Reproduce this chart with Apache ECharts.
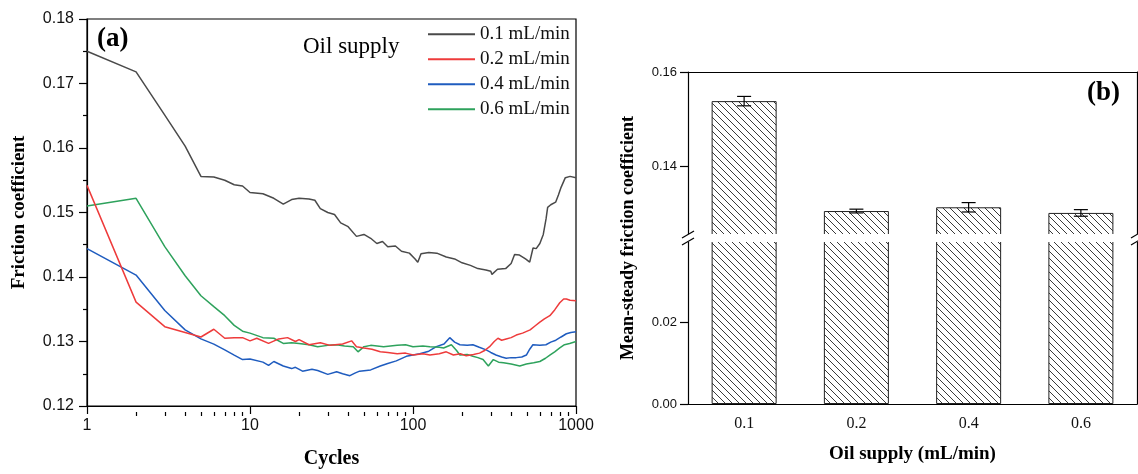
<!DOCTYPE html>
<html>
<head>
<meta charset="utf-8">
<script src="https://cdn.jsdelivr.net/npm/echarts@6.0.0/dist/echarts.min.js"></script>
<style>
  html, body { margin: 0; padding: 0; background: #fff; }
  #main { width: 1138px; height: 474px; }
</style>
</head>
<body>
<div id="main"></div>
<script>
// (a) friction coefficient vs cycles
var cycles01 = [1, 2, 3, 4, 5, 6, 7, 8, 9, 10, 12, 14, 16, 18, 20, 23, 25, 27, 30, 33, 36, 40, 45, 50, 55, 60, 65, 70, 78, 85, 95, 103, 107, 112, 125, 140, 160, 180, 200, 225, 250, 280, 300, 305, 330, 370, 400, 420, 450, 490, 520, 545, 570, 600, 630, 655, 670, 700, 750, 780, 810, 860, 920, 1000];
var friction01 = [0.1750, 0.1718, 0.1651, 0.1603, 0.1556, 0.1555, 0.1550, 0.1543, 0.1541, 0.1531, 0.1529, 0.1522, 0.1513, 0.1520, 0.1522, 0.1521, 0.1519, 0.1506, 0.1500, 0.1497, 0.1484, 0.1478, 0.1463, 0.1466, 0.1460, 0.1452, 0.1455, 0.1447, 0.1448, 0.1440, 0.1437, 0.1428, 0.1423, 0.1436, 0.1438, 0.1437, 0.1431, 0.1428, 0.1422, 0.1418, 0.1413, 0.1411, 0.1409, 0.1404, 0.1412, 0.1413, 0.1421, 0.1435, 0.1434, 0.1428, 0.1423, 0.1445, 0.1444, 0.1452, 0.1466, 0.1490, 0.1508, 0.1512, 0.1516, 0.1527, 0.1539, 0.1554, 0.1556, 0.1554];

var cycles02 = [1, 2, 3, 4, 5, 6, 7, 8, 9, 10, 11, 13, 15, 17, 19, 20, 23, 27, 31, 37, 42, 45, 50, 56, 63, 70, 80, 90, 100, 115, 127, 145, 160, 177, 195, 212, 235, 256, 275, 295, 315, 332, 350, 373, 400, 430, 470, 523, 560, 600, 640, 691, 740, 795, 840, 873, 920, 1000];
var friction02 = [0.1542, 0.1361, 0.1323, 0.1314, 0.1307, 0.1319, 0.1305, 0.1306, 0.1306, 0.1301, 0.1305, 0.1297, 0.1304, 0.1306, 0.1300, 0.1303, 0.1295, 0.1298, 0.1294, 0.1296, 0.1301, 0.1292, 0.1290, 0.1288, 0.1284, 0.1283, 0.1281, 0.1282, 0.1279, 0.1281, 0.1279, 0.1281, 0.1284, 0.1279, 0.1281, 0.1278, 0.1280, 0.1282, 0.1286, 0.1292, 0.1300, 0.1305, 0.1302, 0.1304, 0.1306, 0.1310, 0.1313, 0.1318, 0.1324, 0.1330, 0.1335, 0.1340, 0.1349, 0.1360, 0.1366, 0.1366, 0.1364, 0.1363];

var cycles04 = [1, 2, 3, 4, 5, 6, 7, 8, 9, 10, 12, 13, 14, 16, 18, 19, 21, 24, 26, 30, 34, 37, 41, 44, 47, 55, 63, 70, 79, 91, 100, 110, 125, 139, 155, 168, 180, 194, 215, 233, 255, 281, 300, 323, 350, 373, 400, 430, 465, 496, 520, 544, 600, 654, 700, 752, 810, 873, 930, 1000];
var friction04 = [0.1444, 0.1403, 0.1348, 0.1318, 0.1304, 0.1296, 0.1287, 0.1279, 0.1272, 0.1273, 0.1268, 0.1263, 0.1269, 0.1262, 0.1258, 0.1260, 0.1254, 0.1257, 0.1255, 0.1249, 0.1253, 0.1250, 0.1247, 0.1251, 0.1254, 0.1256, 0.1262, 0.1266, 0.1270, 0.1277, 0.1279, 0.1281, 0.1285, 0.1292, 0.1296, 0.1306, 0.1299, 0.1295, 0.1294, 0.1295, 0.1291, 0.1287, 0.1283, 0.1279, 0.1276, 0.1274, 0.1275, 0.1275, 0.1276, 0.1279, 0.1288, 0.1295, 0.1294, 0.1295, 0.1299, 0.1302, 0.1307, 0.1312, 0.1314, 0.1315];

var cycles06 = [1, 2, 3, 4, 5, 6, 7, 8, 9, 10, 12, 14, 16, 18, 20, 23, 26, 30, 34, 38, 43, 46, 50, 55, 66, 80, 90, 100, 115, 127, 145, 154, 172, 185, 194, 215, 233, 250, 269, 290, 311, 335, 359, 400, 452, 496, 550, 600, 650, 691, 740, 795, 850, 914, 1000];
var friction06 = [0.1510, 0.1522, 0.1447, 0.1402, 0.1371, 0.1354, 0.1340, 0.1325, 0.1316, 0.1313, 0.1306, 0.1305, 0.1297, 0.1298, 0.1297, 0.1295, 0.1292, 0.1294, 0.1295, 0.1293, 0.1292, 0.1284, 0.1292, 0.1294, 0.1292, 0.1294, 0.1295, 0.1292, 0.1293, 0.1292, 0.1291, 0.1290, 0.1295, 0.1286, 0.1279, 0.1280, 0.1277, 0.1275, 0.1272, 0.1262, 0.1272, 0.1268, 0.1267, 0.1265, 0.1262, 0.1265, 0.1267, 0.1269, 0.1274, 0.1279, 0.1284, 0.1290, 0.1295, 0.1297, 0.1300];

var seriesNames = ['0.1 mL/min', '0.2 mL/min', '0.4 mL/min', '0.6 mL/min'];
var seriesColors = ['#4a4a4a', '#ee3b3b', '#1f5cbf', '#2ea25c'];
var cycleMinorTicks = [2, 3, 4, 5, 6, 7, 8, 9, 20, 30, 40, 50, 60, 70, 80, 90, 200, 300, 400, 500, 600, 700, 800, 900];

// (b) mean-steady friction coefficient
var oilSupply = ['0.1', '0.2', '0.4', '0.6'];
var meanFriction = [0.1538, 0.1304, 0.1312, 0.1300];
var meanError = [0.0010, 0.0004, 0.0010, 0.0007];

function pairs(xs, ys) {
    return xs.map(function (x, i) { return [x, ys[i]]; });
}

// hatch fill for the bars
function makeHatch() {
    var s = 7;
    var c = document.createElement('canvas');
    c.width = s; c.height = s;
    var ctx = c.getContext('2d');
    ctx.fillStyle = '#fff';
    ctx.fillRect(0, 0, s, s);
    ctx.strokeStyle = '#3a3a3a';
    ctx.lineWidth = 1;
    ctx.beginPath();
    ctx.moveTo(-1, -1); ctx.lineTo(s + 1, s + 1);
    ctx.moveTo(-1, s - 1); ctx.lineTo(1, s + 1);
    ctx.moveTo(s - 1, -1); ctx.lineTo(s + 1, 1);
    ctx.stroke();
    return c;
}

var myChart = echarts.init(document.getElementById('main'), null, { renderer: 'canvas' });

var serif = '"Liberation Serif", "Times New Roman", serif';
var sans = '"Liberation Sans", Arial, sans-serif';
var axisLineStyle = { color: '#000', width: 1.2 };

var plotA = { left: 87, top: 19, width: 489, height: 393 };
var upperMin = 0.1253, upperMax = 0.16;
var lowerMin = 0, lowerMax = 0.04;

var lineSeries = [
    [cycles01, friction01], [cycles02, friction02], [cycles04, friction04], [cycles06, friction06]
].map(function (d, i) {
    return {
        name: seriesNames[i],
        type: 'line',
        xAxisIndex: 0,
        yAxisIndex: 0,
        showSymbol: false,
        symbol: 'none',
        data: pairs(d[0], d[1]),
        lineStyle: { width: 1.5, color: seriesColors[i] },
        itemStyle: { color: seriesColors[i] },
        z: i === 1 ? 4 : 3
    };
});

var hatch = { image: makeHatch(), repeat: 'repeat' };
var barStyle = { color: hatch, borderColor: '#222', borderWidth: 1 };

var option = {
    animation: false,
    backgroundColor: '#fff',
    grid: [
        { left: plotA.left, top: plotA.top, width: plotA.width, height: plotA.height, show: true, borderColor: '#000', borderWidth: 1.2, backgroundColor: 'transparent' },
        { left: 688, top: 72, width: 449, height: 163 },   // upper part of broken axis
        { left: 688, top: 241, width: 449, height: 163 }   // lower part
    ],
    legend: {
        data: seriesNames,
        orient: 'vertical',
        left: 423,
        top: 19,
        icon: 'rect',
        itemWidth: 47,
        itemHeight: 2,
        itemGap: 4.5,
        selectedMode: false,
        textStyle: { fontFamily: serif, fontSize: 19, color: '#111', lineHeight: 20.5, padding: [0, 0, 0, 0] }
    },
    xAxis: [
        {
            type: 'log', logBase: 10, gridIndex: 0, min: 1, max: 1000, position: 'bottom',
            name: 'Cycles', nameLocation: 'middle', nameGap: 43,
            nameTextStyle: { fontFamily: serif, fontWeight: 'bold', fontSize: 20, color: '#000' },
            axisLine: { lineStyle: axisLineStyle },
            axisTick: { length: 8, lineStyle: axisLineStyle },
            axisLabel: { fontFamily: sans, fontSize: 16, color: '#111', margin: 12, formatter: function (v) { return String(Math.round(v)); } },
            splitLine: { show: false }
        },
        {
            // minor ticks 2..9 of each decade, moved down onto the bottom edge
            type: 'log', logBase: 10, gridIndex: 0, min: 1, max: 1000, position: 'top', offset: -plotA.height,
            axisLine: { show: false },
            axisTick: { inside: true, length: 4, customValues: cycleMinorTicks, lineStyle: axisLineStyle },
            axisLabel: { show: false },
            splitLine: { show: false }
        },
        {
            type: 'category', gridIndex: 1, data: oilSupply, position: 'top',
            axisLine: { lineStyle: axisLineStyle },
            axisTick: { show: false }, axisLabel: { show: false }
        },
        {
            type: 'category', gridIndex: 2, data: oilSupply,
            name: 'Oil supply (mL/min)', nameLocation: 'middle', nameGap: 41,
            nameTextStyle: { fontFamily: serif, fontWeight: 'bold', fontSize: 19, color: '#000' },
            axisLine: { lineStyle: axisLineStyle },
            axisTick: { alignWithLabel: true, length: 6, lineStyle: axisLineStyle },
            axisLabel: { fontFamily: serif, fontSize: 16, color: '#111', margin: 12 }
        }
    ],
    yAxis: [
        {
            type: 'value', gridIndex: 0, min: 0.12, max: 0.18, interval: 0.01,
            name: 'Friction coefficient', nameLocation: 'middle', nameGap: 58,
            nameTextStyle: { fontFamily: serif, fontWeight: 'bold', fontSize: 19, color: '#000' },
            axisLine: { show: true, lineStyle: axisLineStyle },
            axisTick: { show: true, length: 8, lineStyle: axisLineStyle },
            minorTick: { show: true, splitNumber: 2, length: 4, lineStyle: axisLineStyle },
            axisLabel: { fontFamily: sans, fontSize: 16, color: '#111', margin: 13, formatter: function (v) { return v.toFixed(2); } },
            splitLine: { show: false }
        },
        {
            type: 'value', gridIndex: 1, min: upperMin, max: upperMax,
            axisLine: { show: true, lineStyle: axisLineStyle },
            axisTick: { show: true, length: 8, customValues: [0.14, 0.16], lineStyle: axisLineStyle },
            axisLabel: { fontFamily: sans, fontSize: 13, color: '#111', margin: 11, customValues: [0.14, 0.16], formatter: function (v) { return v.toFixed(2); } },
            splitLine: { show: false }
        },
        {
            type: 'value', gridIndex: 1, min: upperMin, max: upperMax,
            axisLine: { show: false },
            axisTick: { show: true, length: 4, customValues: [0.13, 0.15], lineStyle: axisLineStyle },
            axisLabel: { show: false }, splitLine: { show: false }
        },
        {
            type: 'value', gridIndex: 1, min: upperMin, max: upperMax, position: 'right',
            axisLine: { show: true, lineStyle: axisLineStyle },
            axisTick: { show: false }, axisLabel: { show: false }, splitLine: { show: false }
        },
        {
            type: 'value', gridIndex: 2, min: lowerMin, max: lowerMax,
            axisLine: { show: true, lineStyle: axisLineStyle },
            axisTick: { show: true, length: 8, customValues: [0, 0.02], lineStyle: axisLineStyle },
            axisLabel: { fontFamily: sans, fontSize: 13, color: '#111', margin: 11, customValues: [0, 0.02], formatter: function (v) { return v.toFixed(2); } },
            splitLine: { show: false }
        },
        {
            type: 'value', gridIndex: 2, min: lowerMin, max: lowerMax,
            axisLine: { show: false },
            axisTick: { show: true, length: 4, customValues: [0.01, 0.03], lineStyle: axisLineStyle },
            axisLabel: { show: false }, splitLine: { show: false }
        },
        {
            type: 'value', gridIndex: 2, min: lowerMin, max: lowerMax, position: 'right',
            axisLine: { show: true, lineStyle: axisLineStyle },
            axisTick: { show: false }, axisLabel: { show: false }, splitLine: { show: false }
        }
    ],
    series: lineSeries.concat([
        {
            type: 'bar', xAxisIndex: 2, yAxisIndex: 1, barWidth: 65, clip: true,
            data: meanFriction, itemStyle: barStyle, silent: true
        },
        {
            type: 'bar', xAxisIndex: 3, yAxisIndex: 4, barWidth: 65, clip: true,
            data: meanFriction, itemStyle: barStyle, silent: true
        },
        {
            // error bars
            type: 'custom', xAxisIndex: 2, yAxisIndex: 1, z: 5, silent: true,
            data: meanFriction.map(function (m, i) { return [i, m - meanError[i], m + meanError[i]]; }),
            renderItem: function (params, api) {
                var lo = api.coord([api.value(0), api.value(1)]);
                var hi = api.coord([api.value(0), api.value(2)]);
                var half = 7;
                var st = { stroke: '#000', lineWidth: 1.2 };
                return {
                    type: 'group',
                    children: [
                        { type: 'line', shape: { x1: lo[0], y1: lo[1], x2: hi[0], y2: hi[1] }, style: st },
                        { type: 'line', shape: { x1: lo[0] - half, y1: lo[1], x2: lo[0] + half, y2: lo[1] }, style: st },
                        { type: 'line', shape: { x1: hi[0] - half, y1: hi[1], x2: hi[0] + half, y2: hi[1] }, style: st }
                    ]
                };
            }
        }
    ]),
    graphic: [
        // gap of the broken axis
        { type: 'rect', z: 100, shape: { x: 680, y: 234, width: 460, height: 8 }, style: { fill: '#fff' } },
        { type: 'line', z: 101, shape: { x1: 682, y1: 238, x2: 694, y2: 231 }, style: { stroke: '#000', lineWidth: 1.2 } },
        { type: 'line', z: 101, shape: { x1: 682, y1: 245, x2: 694, y2: 238 }, style: { stroke: '#000', lineWidth: 1.2 } },
        { type: 'line', z: 101, shape: { x1: 1131, y1: 238, x2: 1143, y2: 231 }, style: { stroke: '#000', lineWidth: 1.2 } },
        { type: 'line', z: 101, shape: { x1: 1131, y1: 245, x2: 1143, y2: 238 }, style: { stroke: '#000', lineWidth: 1.2 } },
        { type: 'text', z: 101, x: 97, y: 26, style: { text: '(a)', font: 'bold 27px ' + serif, fill: '#000' } },
        { type: 'text', z: 101, x: 1087, y: 80, style: { text: '(b)', font: 'bold 27px ' + serif, fill: '#000' } },
        { type: 'text', z: 101, x: 303, y: 35, style: { text: 'Oil supply', font: '23px ' + serif, fill: '#000' } },
        {
            type: 'text', z: 101, x: 628, y: 238, rotation: Math.PI / 2,
            style: { text: 'Mean-steady friction coefficient', font: 'bold 18px ' + serif, fill: '#000', align: 'center', verticalAlign: 'middle' }
        }
    ]
};

myChart.setOption(option);
</script>
</body>
</html>
